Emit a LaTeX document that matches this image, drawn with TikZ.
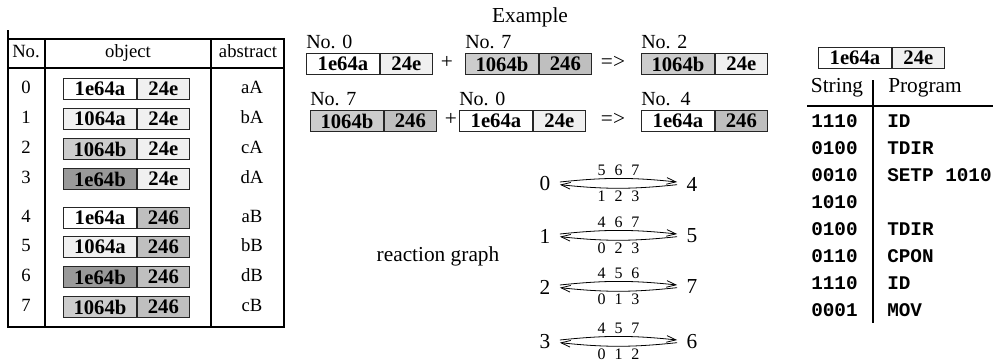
\documentclass[tikz,border=0pt]{standalone}
\usepackage{fontspec}
\setmainfont{Liberation Serif}
\setmonofont{Liberation Mono}
\usetikzlibrary{arrows.meta, positioning}

\definecolor{light}{gray}{0.94}
\definecolor{mid}{gray}{0.80}
\definecolor{shade}{gray}{0.75}
\definecolor{dark}{gray}{0.60}

\tikzset{
  cell/.style={draw=black!85, line width=0.7pt, minimum height=15.75pt, inner sep=0pt,
    anchor=west, font=\fontsize{15.5}{16}\selectfont\bfseries},
  rule/.style={line width=0.9pt},
  txt/.style={font=\fontsize{14}{16}\selectfont, inner sep=0pt, text height=0.66em, text depth=0pt},
  big/.style={font=\fontsize{16}{18}\selectfont, inner sep=0pt, text height=0.66em, text depth=0pt},
  tag/.style={font=\fontsize{15}{16}\selectfont, inner sep=0pt, anchor=south west, yshift=3pt},
  code/.style={font=\fontsize{14.5}{16}\selectfont\ttfamily\bfseries, inner sep=0pt,
    anchor=west, text height=0.62em, text depth=0pt},
  rnode/.style={font=\fontsize{16}{18}\selectfont, inner xsep=7pt, inner ysep=2pt},
  nums/.style={font=\fontsize{12}{13}\selectfont, inner sep=1.5pt},
  react/.style={-{Straight Barb[length=7pt,width=5pt]}, line width=0.6pt}
}

% two-part string box: name, position, left text, left fill, right text, right fill
\newcommand{\molecule}[6]{%
  \node[cell, minimum width=54.75pt, fill=#4] (#1l) at #2 {#3};
  \node[cell, minimum width=39pt, fill=#6] (#1r) at (#1l.east) {#5};
}
\newcommand{\trio}[3]{#1\hspace{0.55em}#2\hspace{0.55em}#3}

\begin{document}
\begin{tikzpicture}[x=0.75pt, y=-0.75pt]
  \useasboundingbox (0,0) rectangle (993,362);

  % Left table
  \draw[rule] (8,30) -- (8,327) -- (284,327) -- (284,39) -- (8,39);
  \draw[rule] (8,68) -- (284,68);
  \draw[rule] (45,39) -- (45,327);
  \draw[rule] (211,39) -- (211,327);
  \node[txt] (hno) at (26,53) {No.};
  \node[txt] (hobj) at (128,53) {object};
  \node[txt] (habs) at (248,53) {abstract};
  \foreach \n/\y/\lt/\lc/\rt/\rc/\ab in {
      0/89/1e64a/white/24e/light/aA, 1/119/1064a/light/24e/light/bA,
      2/149/1064b/mid/24e/light/cA, 3/179/1e64b/dark/24e/light/dA,
      4/218/1e64a/white/246/shade/aB, 5/247/1064a/light/246/shade/bB,
      6/277/1e64b/dark/246/shade/dB, 7/307/1064b/mid/246/shade/cB} {
    \node[txt] (no\n) at (26,\y) {\n};
    \molecule{m\n}{(63,\y)}{\lt}{\lc}{\rt}{\rc}
    \node[txt] (ab\n) at (252,\y) {\ab};
  }

  % Example
  \node[big] (extitle) at (530,18) {Example};
  \molecule{ea}{(306,64)}{1e64a}{white}{24e}{light}
  \molecule{eb}{(465,64)}{1064b}{mid}{246}{shade}
  \molecule{ec}{(641,64)}{1064b}{mid}{24e}{light}
  \node[tag] (eatag) at (eal.north west) {No. 0};
  \node[tag] (ebtag) at (ebl.north west) {No. 7};
  \node[tag] (ectag) at (ecl.north west) {No. 2};
  \node[big] (eplus) at (447,64) {+};
  \node[big] (egives) at (613,64) {=>};

  \molecule{fa}{(310,121)}{1064b}{mid}{246}{shade}
  \molecule{fb}{(459,121)}{1e64a}{white}{24e}{light}
  \molecule{fc}{(641,121)}{1e64a}{white}{246}{shade}
  \node[tag] (fatag) at (fal.north west) {No. 7};
  \node[tag] (fbtag) at (fbl.north west) {No. 0};
  \node[tag] (fctag) at (fcl.north west) {No.\ \ 4};
  \node[big] (fplus) at (451,121) {+};
  \node[big] (fgives) at (613,121) {=>};

  % Reaction graph
  \node[big] (rgraph) at (438,257) {reaction graph};
  \foreach \a/\b/\y/\up/\dn in {0/4/184/567/123, 1/5/236/467/023,
      2/7/287/456/013, 3/6/342/457/012} {
    \node[rnode] (r\a) at (545,\y) {\a};
    \node[rnode] (r\b) at (692,\y) {\b};
    \draw[react] ([yshift=1.5pt]r\a.east) to[bend left=6]
      node[nums, above] {\expandafter\trio\up} ([yshift=1.5pt]r\b.west);
    \draw[react] ([yshift=-0.5pt]r\b.west) to[bend left=6]
      node[nums, below] {\expandafter\trio\dn} ([yshift=-0.5pt]r\a.east);
  }

  % Program table
  \molecule{key}{(818,57.5)}{1e64a}{white}{24e}{light}
  \node[big] (hstr) at (837,88) {String};
  \node[big] (hprog) at (925,88) {Program};
  \draw[rule] (807,106) -- (993,106);
  \draw[rule] (873,80) -- (873,323);
  \foreach \s/\p [count=\i] in {1110/ID, 0100/TDIR, 0010/SETP 1010, 1010/,
      0100/TDIR, 0110/CPON, 1110/ID, 0001/MOV} {
    \node[code] (s\i) at (811,{123+27*(\i-1)}) {\s};
    \node[code] (p\i) at (887,{123+27*(\i-1)}) {\p};
  }
\end{tikzpicture}
\end{document}
